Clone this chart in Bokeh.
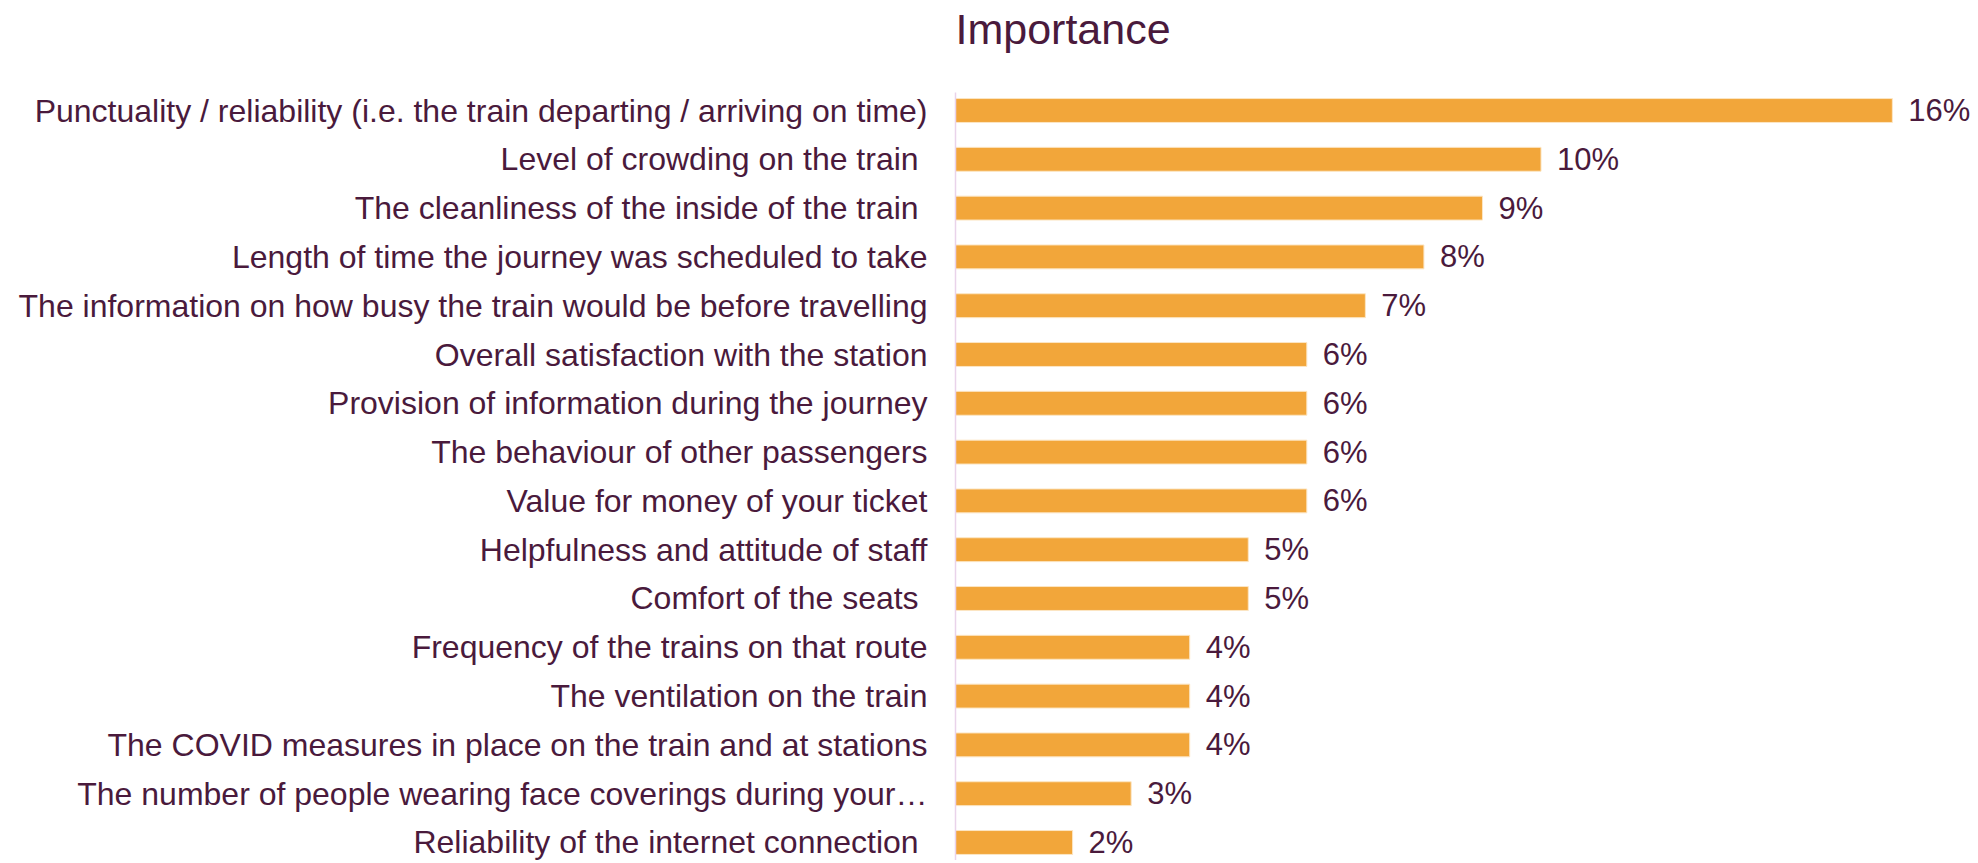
from bokeh.plotting import figure
from bokeh.models import Range1d, ColumnDataSource
from bokeh.embed import file_html
from bokeh.resources import INLINE

title_text = "Importance"
categories = [
    "Punctuality / reliability (i.e. the train departing / arriving on time)",
    "Level of crowding on the train ",
    "The cleanliness of the inside of the train ",
    "Length of time the journey was scheduled to take",
    "The information on how busy the train would be before travelling",
    "Overall satisfaction with the station",
    "Provision of information during the journey",
    "The behaviour of other passengers",
    "Value for money of your ticket",
    "Helpfulness and attitude of staff",
    "Comfort of the seats ",
    "Frequency of the trains on that route",
    "The ventilation on the train",
    "The COVID measures in place on the train and at stations",
    "The number of people wearing face coverings during your\u2026",
    "Reliability of the internet connection ",
]
values = [16, 10, 9, 8, 7, 6, 6, 6, 6, 5, 5, 4, 4, 4, 3, 2]
value_labels = [f"{v}%" for v in values]

TEXT = "#4A1A3C"
BAR = "#F2A63A"
FONT = "Liberation Sans"

src = ColumnDataSource(dict(cat=categories, val=values, lab=value_labels))

H = 860
p = figure(
    width=1975, height=H,
    y_range=list(reversed(categories)),
    x_range=Range1d(0, 17.42),
    output_backend="svg", toolbar_location=None,
    min_border_left=955, min_border_right=0, min_border_bottom=0, min_border_top=92,
)
p.y_range.range_padding = -0.131
p.y_range.range_padding_units = "absolute"

p.hbar(y="cat", right="val", left=0, height=0.49, source=src,
       fill_color=BAR, line_color="#FCE6C4", line_width=1)
p.text(x="val", y="cat", text="lab", source=src, x_offset=16,
       text_baseline="middle", text_align="left",
       text_font_size="31px", text_color=TEXT, text_font={"value": FONT})

# title: a second (empty) line makes its box fill the space above the frame,
# so that the visible line sits at the top of the page as in the reference
p.title.text = title_text + "\n "
p.title.align = "left"
p.title.vertical_align = "top"
p.title.text_font = FONT
p.title.text_font_size = "43px"
p.title.text_font_style = "normal"
p.title.text_color = TEXT
p.title.text_line_height = 0.8
p.title.standoff = 0

p.xaxis.visible = False
p.xgrid.visible = False
p.ygrid.visible = False
p.outline_line_color = None

ax = p.yaxis[0]
ax.axis_line_color = "#E9D3EA"
ax.axis_line_width = 1.5
ax.major_tick_line_color = None
ax.minor_tick_line_color = None
ax.major_tick_out = 0
ax.major_tick_in = 0
ax.major_label_standoff = 28
ax.major_label_text_font = FONT
ax.major_label_text_font_size = "32px"
ax.major_label_text_color = TEXT

open("out.html", "w").write(file_html(p, INLINE))
